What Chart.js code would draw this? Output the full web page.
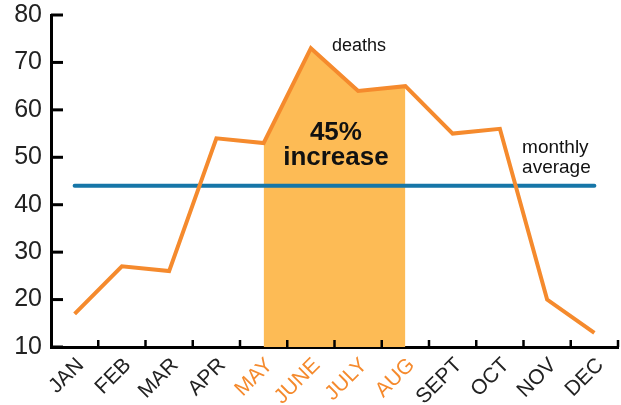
<!DOCTYPE html>
<html>
<head>
<meta charset="utf-8">
<script src="https://cdn.jsdelivr.net/npm/chart.js@4"></script>
<style>
  html, body { margin: 0; padding: 0; background: #fff; }
  #wrap { width: 621px; height: 405px; }
</style>
</head>
<body>
<div id="wrap"><canvas id="chart"></canvas></div>
<script>
const months = ['JAN', 'FEB', 'MAR', 'APR', 'MAY', 'JUNE', 'JULY', 'AUG', 'SEPT', 'OCT', 'NOV', 'DEC'];
const deaths = [17, 27, 26, 54, 53, 73, 64, 65, 55, 56, 20, 13];
const monthlyAverage = [44, 44, 44, 44, 44, 44, 44, 44, 44, 44, 44, 44];
const summerMonths = ['MAY', 'JUNE', 'JULY', 'AUG'];
const yTicks = [10, 20, 30, 40, 50, 60, 70, 80];

const ORANGE = '#F58A2D';
const FILL = '#FDBB55';
const BLUE = '#1676A8';
const FONT = '"Liberation Sans", Arial, Helvetica, sans-serif';

// only the summer months get the highlighted fill
const summerDeaths = deaths.map((v, i) => summerMonths.includes(months[i]) ? v : null);

// tick marks point into the plot, so draw them ourselves
const innerTicks = {
  id: 'innerTicks',
  afterDatasetsDraw(chart) {
    const { ctx, scales: { x, y } } = chart;
    ctx.save();
    ctx.strokeStyle = '#000';
    ctx.lineWidth = 3;
    yTicks.forEach(v => {
      const py = y.getPixelForValue(v);
      ctx.beginPath();
      ctx.moveTo(x.left, py);
      ctx.lineTo(x.left + 12, py);
      ctx.stroke();
    });
    ctx.lineWidth = 2.5;
    const half = (x.getPixelForValue(1) - x.getPixelForValue(0)) / 2;
    for (let i = 0; i < months.length; i++) {
      const px = x.getPixelForValue(i) + half;
      ctx.beginPath();
      ctx.moveTo(px, y.bottom);
      ctx.lineTo(px, y.bottom - 7);
      ctx.stroke();
    }
    ctx.restore();
  }
};

const notes = [
  { text: 'deaths', x: 6.02, y: 72.4, font: '18px ' + FONT, align: 'center' },
  { text: '45%', x: 5.53, y: 53.7, font: 'bold 26px ' + FONT, align: 'center' },
  { text: 'increase', x: 5.53, y: 48.3, font: 'bold 26px ' + FONT, align: 'center' },
  { text: 'monthly', x: 9.47, y: 50.9, font: '19px ' + FONT, align: 'left' },
  { text: 'average', x: 9.47, y: 46.7, font: '19px ' + FONT, align: 'left' }
];

const annotations = {
  id: 'annotations',
  afterDatasetsDraw(chart) {
    const { ctx, scales: { x, y } } = chart;
    ctx.save();
    ctx.fillStyle = '#111';
    ctx.textBaseline = 'alphabetic';
    notes.forEach(n => {
      ctx.font = n.font;
      ctx.textAlign = n.align;
      ctx.fillText(n.text, x.getPixelForValue(n.x), y.getPixelForValue(n.y));
    });
    ctx.restore();
  }
};

new Chart(document.getElementById('chart'), {
  type: 'line',
  data: {
    labels: months,
    datasets: [
      {
        label: 'deaths',
        data: deaths,
        borderColor: ORANGE,
        borderWidth: 4,
        pointRadius: 0,
        fill: false,
        tension: 0,
        order: 0
      },
      {
        label: 'monthly average',
        data: monthlyAverage,
        borderColor: BLUE,
        borderWidth: 4,
        borderCapStyle: 'round',
        pointRadius: 0,
        fill: false,
        order: 1
      },
      {
        label: 'summer',
        data: summerDeaths,
        borderWidth: 0,
        borderColor: 'rgba(0,0,0,0)',
        backgroundColor: FILL,
        pointRadius: 0,
        fill: 'start',
        spanGaps: false,
        order: 2
      }
    ]
  },
  options: {
    responsive: true,
    maintainAspectRatio: false,
    animation: false,
    layout: { padding: { top: 15, right: 3, left: 0, bottom: 0 } },
    plugins: {
      legend: { display: false },
      tooltip: { enabled: false }
    },
    scales: {
      x: {
        offset: true,
        grid: { display: true, drawOnChartArea: false, drawTicks: false },
        border: { display: true, color: '#000', width: 3 },
        afterFit: s => { s.height = 58; s.paddingRight = 0; },
        ticks: {
          autoSkip: false,
          maxRotation: 45,
          minRotation: 45,
          padding: 6,
          labelOffset: 6,
          font: { family: FONT, size: 21 },
          color: c => summerMonths.includes(months[c.index]) ? ORANGE : '#222'
        }
      },
      y: {
        min: 10,
        max: 80,
        grid: { display: true, drawOnChartArea: false, drawTicks: false },
        border: { display: true, color: '#000', width: 3 },
        afterFit: s => { s.width = 51; s.paddingTop = 0; s.paddingBottom = 0; },
        afterBuildTicks: s => { s.ticks = yTicks.map(v => ({ value: v })); },
        ticks: {
          padding: 9,
          font: { family: FONT, size: 25 },
          color: '#222'
        }
      }
    }
  },
  plugins: [innerTicks, annotations]
});
</script>
</body>
</html>
